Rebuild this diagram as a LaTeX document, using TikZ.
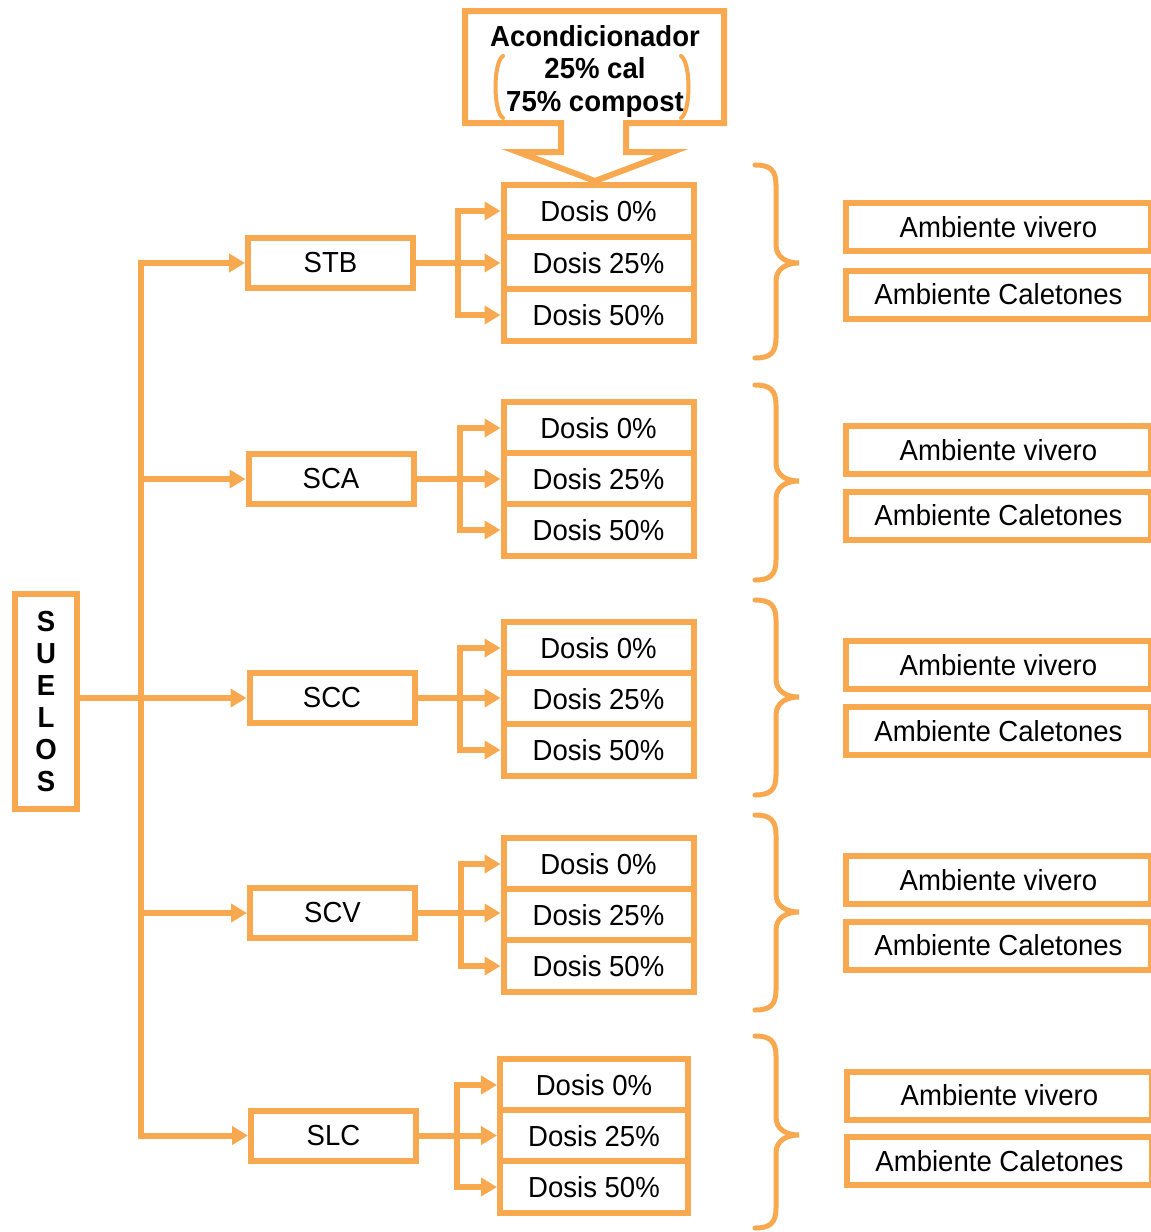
\documentclass[tikz,border=0pt]{standalone}
\usepackage{fontspec}
\setmainfont{Liberation Sans}[FakeStretch=0.95]
\usetikzlibrary{arrows.meta}
\definecolor{orn}{RGB}{248,168,78}
\newcommand\orbrace[3]{%
  \draw[bracesty] (755,#1) .. controls (770,#1) and (776,#1+5) .. (776,#1+20) -- (776,#2-18)
    .. controls (776,#2-6) and (786,#2) .. (799,#2)
    .. controls (786,#2) and (776,#2+6) .. (776,#2+18) -- (776,#3-20)
    .. controls (776,#3-5) and (770,#3) .. (755,#3);}
\begin{document}
\begin{tikzpicture}[x=1pt,y=-1pt,
  box/.style={draw=orn,line width=6pt,fill=white,inner sep=0pt,font=\fontsize{29}{33}\selectfont},
  dosbox/.style={box,minimum width=190pt,minimum height=52pt},
  soilbox/.style={box,minimum width=165pt,minimum height=50pt},
  ambbox/.style={box,minimum width=305pt,minimum height=48pt},
  conn/.style={draw=orn,line width=6pt},
  arr/.style={conn,-{Triangle[length=16pt,width=18pt]}},
  darr/.style={conn,{Triangle[length=16pt,width=18pt]}-{Triangle[length=16pt,width=18pt]}},
  bracesty/.style={draw=orn,line width=5pt,line cap=round}]
\useasboundingbox (0,0) rectangle (1151,1232);
\fill[white] (0,0) rectangle (1151,1232);

% callout
\draw[draw=orn,line width=6pt,fill=white,line join=miter]
  (465,11) -- (724,11) -- (724,123) -- (626,123) -- (626,152) -- (672,152) -- (595,181)
  -- (518,152) -- (561,152) -- (561,123) -- (465,123) -- cycle;
\node[align=center,inner sep=0pt,font=\bfseries\fontsize{29}{32.5}\selectfont] (acond) at (595,71)
  {Acondicionador\\25\% cal\\75\% compost};
\draw[draw=orn,line width=4pt,line cap=round] (503,56) .. controls (493,62) and (493,112) .. (503,118);
\draw[draw=orn,line width=4pt,line cap=round] (681,56) .. controls (691,62) and (691,112) .. (681,118);

% suelos
\node[draw=orn,line width=6pt,fill=white,minimum width=62pt,minimum height=215pt,inner sep=0pt,
  align=center,font=\bfseries\fontsize{29}{32}\selectfont] (suelos) at (46,701.5)
  {S\\U\\E\\L\\O\\S};

% soil boxes
\node[soilbox] (stb) at (330.5,263) {STB};
\node[soilbox] (sca) at (331,479) {SCA};
\node[soilbox] (scc) at (332,698) {SCC};
\node[soilbox] (scv) at (332.5,913) {SCV};
\node[soilbox] (slc) at (333.5,1135.5) {SLC};

% dosis
\node[dosbox] (a1) at (598.5,211) {Dosis 0\%};
\node[dosbox] (a2) at (598.5,263) {Dosis 25\%};
\node[dosbox] (a3) at (598.5,315) {Dosis 50\%};
\node[dosbox] (b1) at (598.5,428) {Dosis 0\%};
\node[dosbox] (b2) at (598.5,479) {Dosis 25\%};
\node[dosbox] (b3) at (598.5,530) {Dosis 50\%};
\node[dosbox] (c1) at (598.5,648) {Dosis 0\%};
\node[dosbox] (c2) at (598.5,699) {Dosis 25\%};
\node[dosbox] (c3) at (598.5,750) {Dosis 50\%};
\node[dosbox] (d1) at (598.5,864) {Dosis 0\%};
\node[dosbox] (d2) at (598.5,915) {Dosis 25\%};
\node[dosbox] (d3) at (598.5,966) {Dosis 50\%};
\node[dosbox,minimum width=188pt] (e1) at (594,1085) {Dosis 0\%};
\node[dosbox,minimum width=188pt] (e2) at (594,1136) {Dosis 25\%};
\node[dosbox,minimum width=188pt] (e3) at (594,1187) {Dosis 50\%};

% ambiente
\node[ambbox] (v1) at (998.5,227) {Ambiente vivero};
\node[ambbox] (k1) at (998.5,294.5) {Ambiente Caletones};
\node[ambbox] (v2) at (998.5,450) {Ambiente vivero};
\node[ambbox] (k2) at (998.5,515.5) {Ambiente Caletones};
\node[ambbox] (v3) at (998.5,665) {Ambiente vivero};
\node[ambbox] (k3) at (998.5,731) {Ambiente Caletones};
\node[ambbox] (v4) at (998.5,880) {Ambiente vivero};
\node[ambbox] (k4) at (998.5,945.5) {Ambiente Caletones};
\node[ambbox] (v5) at (999.5,1095.5) {Ambiente vivero};
\node[ambbox] (k5) at (999.5,1161) {Ambiente Caletones};

% trunk
\coordinate (tx) at (141,0);
\draw[darr,line join=miter] (stb.west) -- (tx |- stb.west) -- (tx |- slc.west) -- (slc.west);
\draw[arr] (tx |- sca.west) -- (sca.west);
\draw[arr] (tx |- scv.west) -- (scv.west);
\draw[arr] (suelos.east |- scc.west) -- (scc.west);

% forks
\foreach \s/\g/\fx in {stb/a/458,sca/b/460,scc/c/460,scv/d/461,slc/e/457}{
  \coordinate (f\g) at (\fx,0);
  \draw[arr] (\s.east) -- (\s.east -| \g2.west);
  \draw[darr,line join=miter] (\g1.west) -- (f\g |- \g1.west) -- (f\g |- \g3.west) -- (\g3.west);
}

% braces
\orbrace{165}{263}{358}
\orbrace{385}{481}{580}
\orbrace{600}{697}{795}
\orbrace{815}{912}{1010}
\orbrace{1036}{1135}{1228}
\end{tikzpicture}
\end{document}
